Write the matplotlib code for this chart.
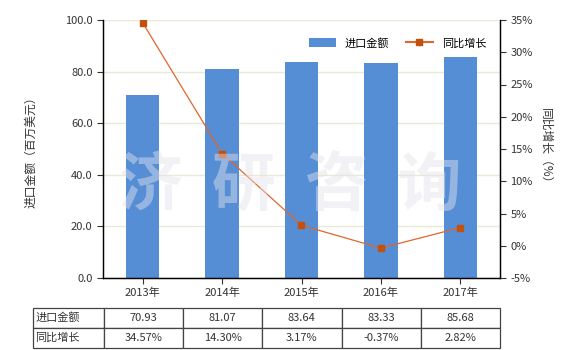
import matplotlib
matplotlib.use('Agg')
import matplotlib.pyplot as plt
from matplotlib.lines import Line2D
from matplotlib.patches import Patch

plt.rcParams['font.family'] = ['Noto Sans CJK SC', 'DejaVu Sans']

years = ['2013年', '2014年', '2015年', '2016年', '2017年']
imports = [70.93, 81.07, 83.64, 83.33, 85.68]
growth = [34.57, 14.30, 3.17, -0.37, 2.82]
import_labels = ['70.93', '81.07', '83.64', '83.33', '85.68']
growth_labels = ['34.57%', '14.30%', '3.17%', '-0.37%', '2.82%']

C_BAR = '#558ED5'
C_LINE = '#E0662A'
C_MARK = '#C4500E'
C_GRID = '#E9E9D4'
C_TXT = '#333333'

fig = plt.figure(figsize=(5.8, 3.5), dpi=100)
ax = fig.add_axes([103 / 580, 1 - 278 / 350, 397 / 580, 258 / 350])
ax2 = ax.twinx()

x = list(range(len(years)))
ax.bar(x, imports, width=0.42, color=C_BAR, zorder=2)
ax.set_xlim(-0.5, 4.5)
ax.set_ylim(0, 100)
ax.set_yticks([0, 20, 40, 60, 80, 100])
ax.set_yticklabels([f'{v:.1f}' for v in [0, 20, 40, 60, 80, 100]])
ax.yaxis.grid(True, color=C_GRID, lw=1, zorder=0)
ax.set_axisbelow(True)
ax.set_xticks(x)
ax.set_xticklabels(years)
ax.tick_params(labelsize=8, colors=C_TXT, length=4, width=0.8)
ax.tick_params(axis='x', pad=3)
ax.set_ylabel('进口金额（百万美元）', fontsize=8.5, color=C_TXT, labelpad=20)

ax2.plot(x, growth, color=C_LINE, lw=0.9, marker='s', ms=4.5,
         mfc=C_MARK, mec=C_MARK, zorder=3)
ax2.set_ylim(-5, 35)
ax2.set_yticks(range(-5, 36, 5))
ax2.set_yticklabels([f'{v}%' for v in range(-5, 36, 5)])
ax2.tick_params(labelsize=8, colors=C_TXT, length=4, width=0.8)
ax2.set_ylabel('同比增长（%）', fontsize=8.5, color=C_TXT, rotation=270,
               labelpad=14)

for a in (ax, ax2):
    a.spines['top'].set_visible(False)
    for sp in ('left', 'right', 'bottom'):
        a.spines[sp].set_color('black')
        a.spines[sp].set_linewidth(0.9)

# watermark
fig.text(0.5, 0.47, '济  研  咨  询', fontsize=46, color='#E4E4EC', alpha=0.45,
         ha='center', va='center', weight='bold', zorder=10)

handles = [Patch(facecolor=C_BAR, edgecolor='none'),
           Line2D([0], [0], color=C_LINE, lw=1.5, marker='s', ms=4,
                  mfc=C_MARK, mec=C_MARK)]
ax2.legend(handles, ['进口金额', '同比增长'], loc='upper right',
           bbox_to_anchor=(0.99, 0.97), ncol=2, frameon=False,
           fontsize=8, handlelength=2.4, columnspacing=1.5,
           handleheight=0.9)

# table under the chart
cell_text = [['进口金额'] + import_labels, ['同比增长'] + growth_labels]
tab = ax.table(cellText=cell_text,
               colWidths=[71] + [79.4] * 5,
               bbox=[(33 - 103) / 397, (278 - 348) / 258,
                     467 / 397, 40 / 258],
               cellLoc='center')
tab.auto_set_font_size(False)
tab.set_fontsize(8)
for (r, c), cell in tab.get_celld().items():
    cell.set_edgecolor('#444444')
    cell.set_linewidth(0.9)
    cell.get_text().set_color(C_TXT)
    if c == 0:
        cell.get_text().set_ha('left')
        cell.PAD = 0.03

fig.savefig('out.png', dpi=100)
